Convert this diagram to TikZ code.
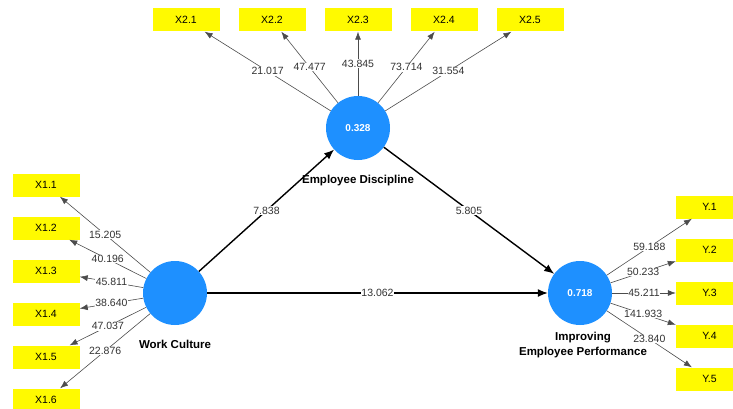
\documentclass[tikz,border=0pt]{standalone}
\usepackage{fontspec}
\setmainfont{Liberation Sans}
\usetikzlibrary{arrows.meta}
\definecolor{lvblue}{RGB}{30,144,255}
\definecolor{indyellow}{RGB}{255,250,0}

\begin{document}
\begin{tikzpicture}[x=1pt,y=-1pt,
    lv/.style={circle,fill=lvblue,minimum size=64pt,inner sep=0pt,text=white,font=\fontsize{10}{12}\selectfont\bfseries},
    lvname/.style={align=center,font=\fontsize{11.5}{15}\selectfont\bfseries},
    ind/.style={rectangle,fill=indyellow,minimum width=67pt,minimum height=23pt,inner sep=0pt,font=\fontsize{10.5}{12}\selectfont},
    load/.style={draw=black!70,line width=0.6pt,-{Latex[length=8pt,width=6pt]}},
    strc/.style={draw=black,line width=1.4pt,-{Latex[length=10pt,width=8pt]}},
    val/.style={fill=white,inner sep=0.6pt,text=black!80,font=\fontsize{10.5}{12}\selectfont}]
            \useasboundingbox (0,0) rectangle (733,409);
            \clip (0,0) rectangle (733,409);

            \draw (175,293) node (wc) [lv] {};
            \draw (358,128) node (ed) [lv] {0.328};
            \draw (580,293) node (iep) [lv] {0.718};

            \draw (175,344) node (wcname) [lvname] {Work Culture};
            \draw (358,181) node (edname) [lvname] {Employee Discipline};
            \draw (583,345) node (iepname) [lvname] {Improving\\Employee Performance};

            % Employee Discipline indicators
            \draw (186,20) node (x21) [ind] {X2.1};
            \draw (272,20) node (x22) [ind] {X2.2};
            \draw (358,20) node (x23) [ind] {X2.3};
            \draw (444,20) node (x24) [ind] {X2.4};
            \draw (530,20) node (x25) [ind] {X2.5};

            % Work Culture indicators
            \draw (46,185) node (x11) [ind] {X1.1};
            \draw (46,228) node (x12) [ind] {X1.2};
            \draw (46,271) node (x13) [ind] {X1.3};
            \draw (46,314) node (x14) [ind] {X1.4};
            \draw (46,357) node (x15) [ind] {X1.5};
            \draw (46,400) node (x16) [ind] {X1.6};

            % Improving Employee Performance indicators
            \draw (709.5,207) node (y1) [ind] {Y.1};
            \draw (709.5,250) node (y2) [ind] {Y.2};
            \draw (709.5,293) node (y3) [ind] {Y.3};
            \draw (709.5,336) node (y4) [ind] {Y.4};
            \draw (709.5,379) node (y5) [ind] {Y.5};

            \draw [load] (ed) to node [val] {21.017} (x21);
            \draw [load] (ed) to node [val] {47.477} (x22);
            \draw [load] (ed) to node [val] {43.845} (x23);
            \draw [load] (ed) to node [val] {73.714} (x24);
            \draw [load] (ed) to node [val] {31.554} (x25);

            \draw [load] (wc) to node [val] {15.205} (x11);
            \draw [load] (wc) to node [val] {40.196} (x12);
            \draw [load] (wc) to node [val] {45.811} (x13);
            \draw [load] (wc) to node [val] {38.640} (x14);
            \draw [load] (wc) to node [val] {47.037} (x15);
            \draw [load] (wc) to node [val] {22.876} (x16);

            \draw [load] (iep) to node [val] {59.188} (y1);
            \draw [load] (iep) to node [val] {50.233} (y2);
            \draw [load] (iep) to node [val] {45.211} (y3);
            \draw [load] (iep) to node [val] {141.933} (y4);
            \draw [load] (iep) to node [val] {23.840} (y5);

            \draw [strc] (wc) to node [val] {7.838} (ed);
            \draw [strc] (ed) to node [val] {5.805} (iep);
            \draw [strc] (wc) to node [val] {13.062} (iep);
        \end{tikzpicture}
\end{document}
